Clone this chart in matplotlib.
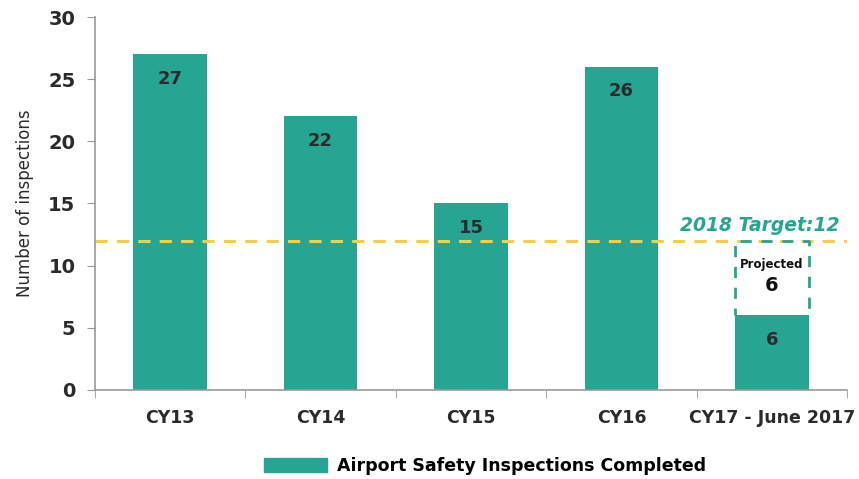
import matplotlib.pyplot as plt
import matplotlib.patches as mpatches
import numpy as np

# data
categories = ['CY13', 'CY14', 'CY15', 'CY16', 'CY17 - June 2017']
completed = [27, 22, 15, 26, 6]
projected = 6
target = 12

teal = '#26a592'
yellow = '#f7cf45'
dark = '#2b2b2b'

fig = plt.figure(figsize=(8.59, 4.79), dpi=100)
ax = fig.add_axes([0.1106, 0.186, 0.8754, 0.7785])

x = np.arange(len(categories))
bw = 0.49
ax.bar(x, completed, width=bw, color=teal, zorder=2)

# labels inside bars
for xi, v in zip(x, completed):
    ax.text(xi, v - 1.95, str(v), ha='center', va='center', fontsize=13,
            fontweight='semibold', color=dark, zorder=4)

# target line
ax.axhline(target, color=yellow, linestyle=(0, (4, 3)), linewidth=2.2, zorder=2.5)
ax.text(x[-1] + 0.45, target + 0.45, '2018 Target:12', ha='right', va='bottom',
        fontsize=13.5, fontstyle='italic', fontweight='bold', color=teal)

# projected dashed box (three sides) on top of the last bar
last = x[-1]
y0 = completed[-1]
y1 = completed[-1] + projected
ax.plot([last - bw / 2, last - bw / 2, last + bw / 2, last + bw / 2],
        [y0, y1, y1, y0], color=teal, linestyle=(1.5, (4, 3.5)), linewidth=2, zorder=3)
ax.text(last, y1 - 1.9, 'Projected', ha='center', va='center',
        fontsize=8.5, fontweight='bold', color='#111111', zorder=4)
ax.text(last, y1 - 3.6, str(projected), ha='center', va='center',
        fontsize=14, fontweight='bold', color='#111111', zorder=4)

ax.set_xlim(-0.5, len(categories) - 0.5)
ax.set_ylim(0, 30)
ax.set_yticks([0, 5, 10, 15, 20, 25, 30])
ax.set_xticks(x)
ax.set_xticklabels(categories, fontsize=12.5, fontweight='bold', color=dark)
ax.set_xticks(np.arange(-0.5, len(categories)), minor=True)
ax.tick_params(axis='x', which='major', length=0, pad=14)
ax.tick_params(axis='x', which='minor', length=6, color='#999999', direction='out')
ax.tick_params(axis='y', length=6, color='#999999', labelsize=14, labelcolor=dark, pad=8)
for lbl in ax.get_yticklabels():
    lbl.set_fontweight('bold')
ax.set_ylabel('Number of inspections', fontsize=12, color=dark, labelpad=10)

for s in ['top', 'right']:
    ax.spines[s].set_visible(False)
for s in ['left', 'bottom']:
    ax.spines[s].set_color('#999999')
    ax.spines[s].set_linewidth(1.2)

handle = mpatches.Patch(color=teal)
fig.legend([handle], ['Airport Safety Inspections Completed'], loc='center',
           bbox_to_anchor=(0.565, 0.027), frameon=False, handlelength=3.6,
           handleheight=0.9, handletextpad=0.6,
           prop={'size': 12.5, 'weight': 'bold'})

fig.savefig('out.png', dpi=100)
